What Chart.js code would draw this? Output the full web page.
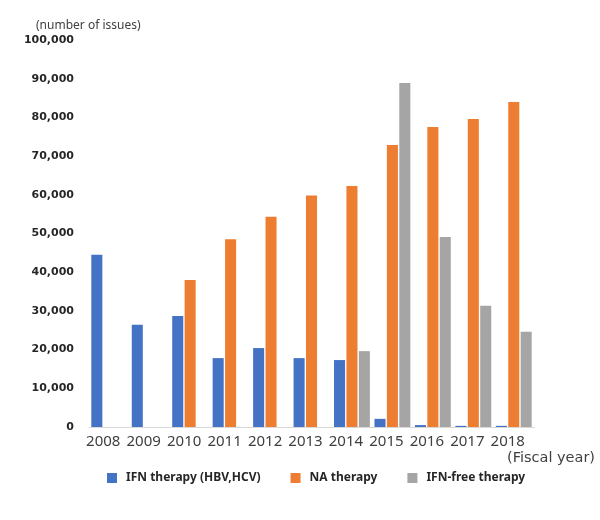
<!DOCTYPE html>
<html>
<head>
<meta charset="utf-8">
<script src="https://cdn.jsdelivr.net/npm/chart.js@4"></script>
<style>
  html, body { margin: 0; padding: 0; background: #fff; }
  #wrap { width: 600px; height: 520px; position: relative; }
</style>
</head>
<body>
<div id="wrap"><canvas id="chart" width="600" height="520"></canvas></div>
<script>
// fiscal years on the x axis
const years = ['2008', '2009', '2010', '2011', '2012', '2013', '2014', '2015', '2016', '2017', '2018'];

// number of issues per therapy
const ifnTherapy = [44500, 26400, 28700, 17800, 20400, 17800, 17300, 2100, 500, 300, 300];
const naTherapy = [null, null, 38000, 48500, 54300, 59800, 62300, 72900, 77500, 79600, 84000];
const ifnFreeTherapy = [null, null, null, null, null, null, 19600, 88900, 49100, 31300, 24600];

const seriesNames = ['IFN therapy (HBV,HCV)', 'NA therapy', 'IFN-free therapy'];
const seriesColors = ['#4472C4', '#ED7D31', '#A5A5A5'];
const yMax = 100000;
const yStep = 10000;

// unit caption, "(Fiscal year)" and the legend row, drawn by hand so they sit where the original has them
const captions = {
    id: 'captions',
    afterDraw(chart) {
        const ctx = chart.ctx;
        const y = chart.scales.y;
        ctx.save();
        ctx.textBaseline = 'middle';
        ctx.textAlign = 'left';
        ctx.fillStyle = '#404040';
        ctx.font = '12px "Noto Sans"';
        ctx.fillText('(number of issues)', 36, y.top - 14);
        ctx.font = '14.5px "DejaVu Sans"';
        ctx.fillText('(Fiscal year)', 507, 458);

        // legend
        ctx.font = 'bold 12px "Noto Sans"';
        let lx = 107;
        const ly = 478;
        chart.data.datasets.forEach((ds, i) => {
            ctx.fillStyle = ds.backgroundColor;
            ctx.fillRect(lx, ly - 5, 10, 10);
            lx += 19;
            ctx.fillStyle = '#262626';
            ctx.fillText(ds.label, lx, ly);
            lx += ctx.measureText(ds.label).width + 30;
        });
        ctx.restore();
    }
};

new Chart(document.getElementById('chart'), {
    type: 'bar',
    data: {
        labels: years,
        datasets: seriesNames.map((name, i) => ({
            label: name,
            data: [ifnTherapy, naTherapy, ifnFreeTherapy][i],
            backgroundColor: seriesColors[i]
        }))
    },
    options: {
        responsive: false,
        animation: false,
        categoryPercentage: 0.92,
        barPercentage: 0.89,
        layout: { padding: { top: 40, right: 66, bottom: 68, left: 0 } },
        plugins: {
            tooltip: { enabled: false },
            legend: { display: false }
        },
        scales: {
            x: {
                grid: { display: false, drawTicks: false },
                border: { display: true, color: '#D9D9D9', width: 1 },
                afterFit(s) { s.height = 25; },
                ticks: {
                    color: '#404040',
                    padding: 6,
                    labelOffset: -6,
                    font: { family: '"Noto Sans"', size: 15 }
                }
            },
            y: {
                min: 0,
                max: yMax,
                grid: { display: false, drawTicks: false },
                border: { display: false },
                afterFit(s) { s.width = 89; },
                ticks: {
                    stepSize: yStep,
                    padding: 15,
                    color: '#262626',
                    font: { family: '"DejaVu Sans"', size: 11, weight: 'bold' },
                    callback: v => v.toLocaleString('en-US')
                }
            }
        }
    },
    plugins: [captions]
});
</script>
</body>
</html>
